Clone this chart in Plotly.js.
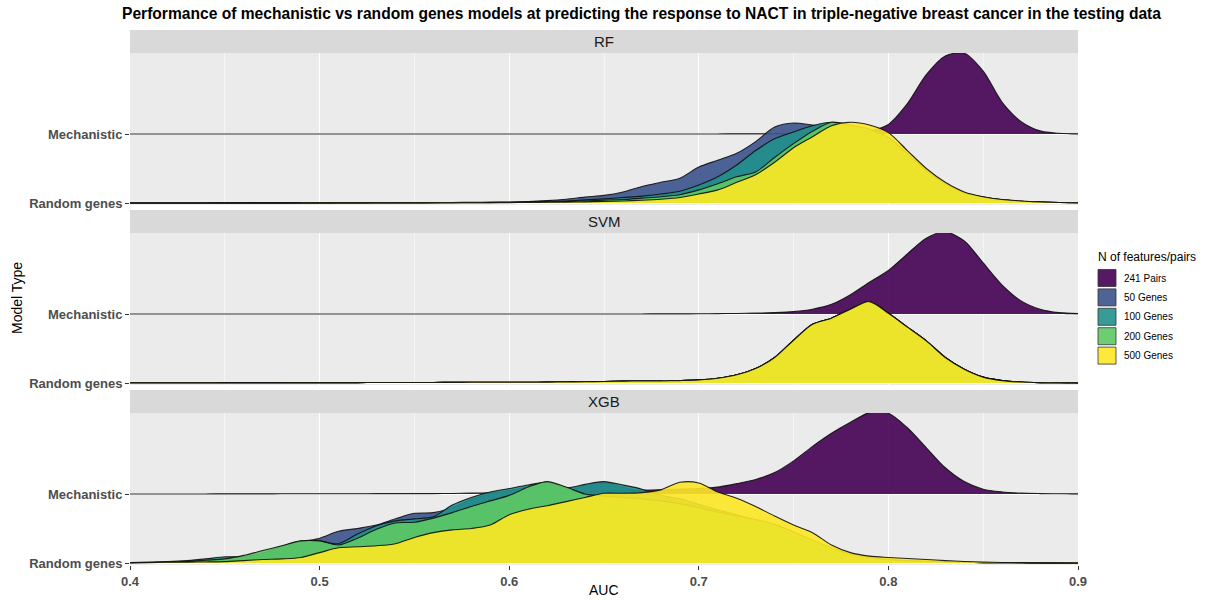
<!DOCTYPE html>
<html><head><meta charset="utf-8">
<script src="https://cdn.plot.ly/plotly-3.0.1.min.js"></script>
<style>html,body{margin:0;padding:0;background:#fff;}#chart{width:1207px;height:601px;}</style>
</head><body><div id="chart"></div>
<script>
// ---------------- data ----------------
const auc = [0.40,0.41,0.42,0.43,0.44,0.45,0.46,0.47,0.48,0.49,
             0.50,0.51,0.52,0.53,0.54,0.55,0.56,0.57,0.58,0.59,
             0.60,0.61,0.62,0.63,0.64,0.65,0.66,0.67,0.68,0.69,
             0.70,0.71,0.72,0.73,0.74,0.75,0.76,0.77,0.78,0.79,
             0.80,0.81,0.82,0.83,0.84,0.85,0.86,0.87,0.88,0.89,
             0.90];
const models = ['RF', 'SVM', 'XGB'];
const groups = ['241 Pairs', '50 Genes', '100 Genes', '200 Genes', '500 Genes'];
const rowLabels = ['Random genes', 'Mechanistic'];
const xTicks = [0.4, 0.5, 0.6, 0.7, 0.8, 0.9];

// ridge heights (density, in row units)
const rf241 = [0,0,0,0,0,0,0,0,0,0,
               0,0,0,0,0,0,0,0,0,0,
               0,0,0,0,0,0,0,0,0,0,
               0.001,0.001,0.002,0.002,0.003,0.003,0.004,0.006,0.012,0.04,
               0.14,0.44,0.86,1.13,1.17,0.91,0.46,0.18,0.045,0.01,
               0.002];
const rf50 = [0.001,0.001,0.001,0.001,0.001,0.002,0.002,0.002,0.002,0.003,
              0.003,0.003,0.004,0.004,0.005,0.005,0.006,0.007,0.01,0.012,
              0.015,0.022,0.035,0.055,0.085,0.11,0.16,0.24,0.30,0.36,
              0.52,0.62,0.72,0.89,1.10,1.16,1.13,1.10,1.05,0.98,
              0.88,0.66,0.44,0.26,0.14,0.08,0.045,0.025,0.014,0.008,
              0.004];
const rf100 = [0.001,0.001,0.001,0.001,0.001,0.001,0.001,0.002,0.002,0.002,
               0.002,0.003,0.003,0.003,0.004,0.004,0.005,0.006,0.007,0.008,
               0.01,0.012,0.02,0.03,0.045,0.06,0.08,0.10,0.13,0.17,
               0.26,0.38,0.55,0.76,0.93,1.03,1.12,1.17,1.10,1.04,
               0.92,0.70,0.46,0.27,0.15,0.085,0.045,0.025,0.014,0.008,
               0.004];
const rf200 = [0.001,0.001,0.001,0.001,0.001,0.001,0.001,0.002,0.002,0.002,
               0.002,0.002,0.002,0.003,0.003,0.003,0.003,0.004,0.005,0.006,
               0.008,0.01,0.015,0.02,0.03,0.04,0.05,0.07,0.09,0.12,
               0.19,0.28,0.38,0.45,0.66,0.86,1.04,1.17,1.13,1.07,
               0.95,0.72,0.47,0.28,0.15,0.085,0.045,0.025,0.014,0.008,
               0.004];
const rf500 = [0.001,0.001,0.001,0.001,0.001,0.001,0.001,0.001,0.001,0.001,
               0.002,0.002,0.002,0.002,0.002,0.002,0.003,0.003,0.004,0.005,
               0.006,0.008,0.01,0.013,0.017,0.022,0.03,0.04,0.055,0.08,
               0.13,0.19,0.30,0.41,0.59,0.80,0.96,1.12,1.17,1.13,
               1.02,0.76,0.50,0.30,0.16,0.09,0.05,0.03,0.015,0.008,
               0.004];

const svm241 = [0,0,0,0,0,0,0,0,0,0,
                0,0,0,0,0,0,0,0,0,0,
                0,0,0,0,0,0.001,0.001,0.001,0.002,0.002,
                0.003,0.005,0.008,0.012,0.02,0.035,0.07,0.14,0.28,0.46,
                0.63,0.87,1.10,1.19,1.06,0.74,0.42,0.19,0.07,0.02,
                0.006];
// the four random-gene SVM curves coincide in the picture
const svmRandom = [0.003,0.003,0.004,0.004,0.004,0.005,0.005,0.005,0.005,0.006,
                   0.006,0.006,0.006,0.007,0.007,0.008,0.008,0.009,0.01,0.01,
                   0.01,0.01,0.012,0.015,0.018,0.022,0.027,0.03,0.03,0.035,
                   0.045,0.07,0.12,0.21,0.37,0.62,0.85,0.94,1.07,1.18,
                   1.01,0.81,0.61,0.37,0.20,0.085,0.035,0.014,0.006,0.003,
                   0.002];

const xgb241 = [0.001,0.001,0.001,0.001,0.001,0.002,0.002,0.002,0.003,0.003,
                0.003,0.004,0.004,0.005,0.005,0.005,0.006,0.008,0.012,0.016,
                0.02,0.025,0.03,0.035,0.04,0.045,0.05,0.055,0.06,0.07,
                0.08,0.10,0.15,0.21,0.31,0.48,0.69,0.88,1.04,1.18,
                1.17,0.96,0.67,0.38,0.18,0.07,0.03,0.012,0.006,0.003,
                0.002];
const xgb50 = [0.003,0.006,0.01,0.015,0.025,0.04,0.06,0.10,0.20,0.30,
               0.36,0.46,0.50,0.55,0.64,0.72,0.73,0.80,0.92,1.00,
               1.05,1.10,1.15,1.05,1.12,1.16,1.10,1.02,0.95,0.90,
               0.82,0.74,0.66,0.58,0.48,0.38,0.28,0.18,0.10,0.06,
               0.04,0.03,0.02,0.012,0.008,0.005,0.004,0.003,0.002,0.001,
               0.001];
const xgb100 = [0.005,0.012,0.02,0.035,0.06,0.09,0.09,0.14,0.24,0.32,
                0.32,0.28,0.42,0.54,0.61,0.64,0.67,0.84,0.95,1.03,
                1.08,1.13,1.17,1.09,1.14,1.18,1.13,1.07,0.98,0.93,
                0.85,0.77,0.70,0.62,0.52,0.40,0.29,0.19,0.11,0.07,
                0.045,0.03,0.02,0.013,0.008,0.005,0.004,0.003,0.002,0.001,
                0.001];
const xgb200 = [0.005,0.008,0.012,0.02,0.04,0.06,0.11,0.18,0.25,0.32,
                0.32,0.26,0.36,0.49,0.58,0.59,0.65,0.73,0.82,0.90,
                0.98,1.10,1.18,1.10,1.00,0.97,0.95,0.93,0.90,0.86,
                0.80,0.74,0.68,0.63,0.56,0.45,0.33,0.22,0.13,0.08,
                0.05,0.035,0.025,0.015,0.01,0.006,0.004,0.003,0.002,0.001,
                0.001];
const xgb500 = [0.005,0.007,0.01,0.012,0.015,0.02,0.035,0.05,0.06,0.08,
                0.15,0.22,0.235,0.25,0.28,0.37,0.44,0.48,0.50,0.55,
                0.70,0.78,0.83,0.89,0.95,1.01,1.01,1.02,1.06,1.17,
                1.16,1.03,0.94,0.82,0.68,0.55,0.44,0.26,0.15,0.10,
                0.08,0.065,0.05,0.035,0.022,0.013,0.008,0.005,0.003,0.002,
                0.001];

const densities = {
  RF:  {'241 Pairs': rf241,  '50 Genes': rf50,      '100 Genes': rf100,     '200 Genes': rf200,     '500 Genes': rf500},
  SVM: {'241 Pairs': svm241, '50 Genes': svmRandom, '100 Genes': svmRandom, '200 Genes': svmRandom, '500 Genes': svmRandom},
  XGB: {'241 Pairs': xgb241, '50 Genes': xgb50,     '100 Genes': xgb100,    '200 Genes': xgb200,    '500 Genes': xgb500}
};

// ---------------- style ----------------
const groupColors = ['68,1,84', '59,82,139', '33,144,140', '93,200,99', '253,231,37'];
const FONT = 'Liberation Sans, Arial, Helvetica, sans-serif';
const W = 1207, H = 601, ML = 130, MR = 129, MT = 30, MB = 36;
const fx = px => (px - ML) / (W - ML - MR);
const fy = py => (H - MB - py) / (H - MT - MB);
const panels = [ // [plot top, plot bottom, strip top] in px
  [53, 205, 30], [233, 385, 210], [413, 565, 390]
];
const yRange = [0.971, 3.174];

const traces = [];
models.forEach((m, k) => {
  const sfx = k === 0 ? '' : String(k + 1);
  groups.forEach((g, gi) => {
    const h = densities[m][g];
    const base = gi === 0 ? 2 : 1; // 2 = Mechanistic row, 1 = Random genes row
    const top = h.map(v => base + v);
    const rev = auc.slice().reverse();
    traces.push({
      x: auc.concat(rev), y: top.concat(rev.map(() => base)),
      xaxis: 'x' + sfx, yaxis: 'y' + sfx,
      type: 'scatter', mode: 'lines', fill: 'toself',
      fillcolor: 'rgba(' + groupColors[gi] + ',0.9)',
      line: {width: 0, shape: 'spline', smoothing: 0.8},
      hoverinfo: 'skip', showlegend: false
    });
    traces.push({
      x: auc, y: top, xaxis: 'x' + sfx, yaxis: 'y' + sfx,
      type: 'scatter', mode: 'lines',
      line: {width: 1.1, color: 'rgba(15,15,15,0.9)', shape: 'spline', smoothing: 0.8},
      hoverinfo: 'skip', showlegend: false
    });
  });
});

const layout = {
  width: W, height: H,
  margin: {l: ML, r: MR, t: MT, b: MB},
  paper_bgcolor: '#ffffff', plot_bgcolor: '#EBEBEB',
  font: {family: FONT, color: '#1A1A1A'},
  showlegend: false,
  title: {
    text: 'Performance of mechanistic vs random genes models at predicting the response to NACT in triple-negative breast cancer in the testing data',
    font: {family: FONT, size: 15.6, color: '#000', weight: 'bold'},
    xref: 'container', x: 122 / W, xanchor: 'left',
    yref: 'container', y: 1 - 14 / H, yanchor: 'middle'
  },
  shapes: [], annotations: []
};

models.forEach((m, k) => {
  const sfx = k === 0 ? '' : String(k + 1);
  const p = panels[k];
  const isBottom = k === models.length - 1;
  layout['xaxis' + sfx] = {
    domain: [0, 1], anchor: 'y' + sfx, range: [0.4, 0.9],
    tickvals: xTicks, ticktext: xTicks.map(v => v.toFixed(1)),
    showticklabels: isBottom, ticks: isBottom ? 'outside' : '', ticklen: 4, tickwidth: 1, tickcolor: '#333',
    tickfont: {family: FONT, size: 13, color: '#4D4D4D', weight: 'bold'},
    showgrid: true, gridcolor: '#ffffff', gridwidth: 1.1, zeroline: false, showline: false,
    minor: {dtick: 0.05, tick0: 0.4, showgrid: true, gridcolor: '#ffffff', gridwidth: 0.5, ticks: ''},
    fixedrange: true
  };
  layout['yaxis' + sfx] = {
    domain: [fy(p[1]), fy(p[0])], anchor: 'x' + sfx, range: yRange,
    tickvals: [1, 2], ticktext: rowLabels,
    ticks: 'outside', ticklen: 4, tickwidth: 1, tickcolor: '#333',
    tickfont: {family: FONT, size: 13, color: '#4D4D4D', weight: 'bold'},
    showgrid: true, gridcolor: '#ffffff', gridwidth: 1.1, zeroline: false, showline: false,
    fixedrange: true
  };
  layout.shapes.push({
    type: 'rect', xref: 'paper', yref: 'paper', x0: 0, x1: 1,
    y0: fy(p[0]), y1: fy(p[2]), fillcolor: '#D9D9D9', line: {width: 0}, layer: 'below'
  });
  layout.annotations.push({
    text: m, xref: 'paper', yref: 'paper', x: 0.5, y: fy((p[0] + p[2]) / 2),
    xanchor: 'center', yanchor: 'middle', showarrow: false,
    font: {family: FONT, size: 15, color: '#1A1A1A'}
  });
});

// axis titles
layout.annotations.push({
  text: 'AUC', xref: 'paper', yref: 'paper', x: 0.5, y: fy(590),
  xanchor: 'center', yanchor: 'middle', showarrow: false,
  font: {family: FONT, size: 14, color: '#000'}
});
layout.annotations.push({
  text: 'Model Type', xref: 'paper', yref: 'paper', x: fx(17), y: fy(298),
  xanchor: 'center', yanchor: 'middle', textangle: -90, showarrow: false,
  font: {family: FONT, size: 14, color: '#000'}
});

// legend
layout.annotations.push({
  text: 'N of features/pairs', xref: 'paper', yref: 'paper', x: fx(1096), y: fy(257),
  xanchor: 'left', yanchor: 'middle', showarrow: false,
  font: {family: FONT, size: 12, color: '#000'}
});
groups.forEach((g, gi) => {
  const cy = 278 + gi * 19.4;
  layout.shapes.push({
    type: 'rect', xref: 'paper', yref: 'paper',
    x0: fx(1098), x1: fx(1116), y0: fy(cy + 8.5), y1: fy(cy - 8.5),
    fillcolor: 'rgba(' + groupColors[gi] + ',0.9)', line: {color: '#333', width: 0.8}
  });
  layout.annotations.push({
    text: g, xref: 'paper', yref: 'paper', x: fx(1122), y: fy(cy),
    xanchor: 'left', yanchor: 'middle', showarrow: false,
    font: {family: FONT, size: 10, color: '#000'}
  });
});

Plotly.newPlot('chart', traces, layout, {displayModeBar: false, staticPlot: true});
</script>
</body></html>
